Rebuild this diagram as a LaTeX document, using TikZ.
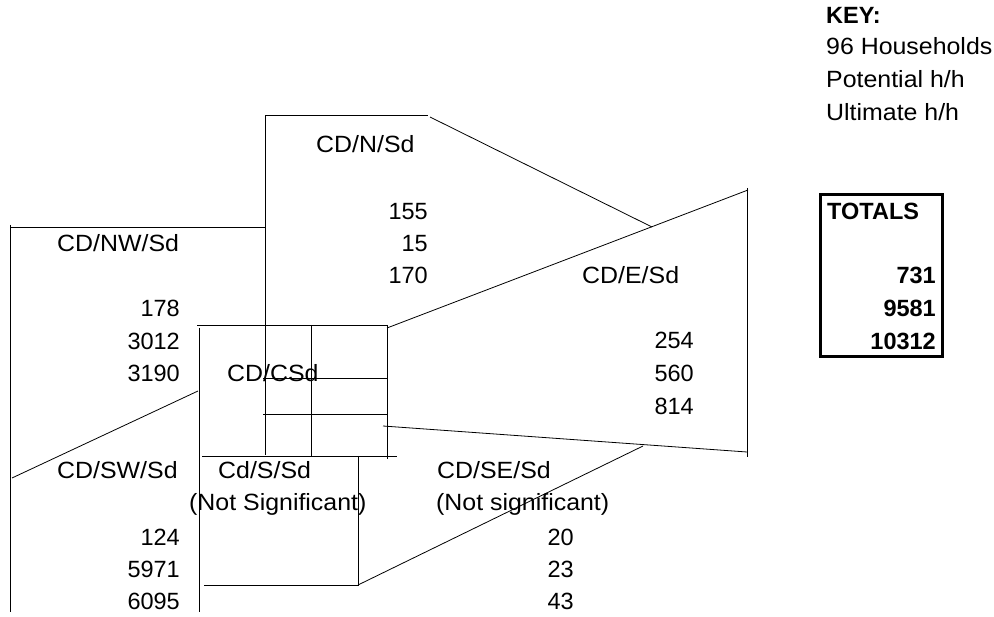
\documentclass[tikz,border=0pt]{standalone}
\usepackage{fontspec}
\setmainfont{Liberation Sans}
\newfontfamily\widesans[FakeStretch=1.06]{Liberation Sans}
\begin{document}
\begin{tikzpicture}[x=1pt,y=-1pt,
  lbl/.style={inner sep=0pt,anchor=base west,font=\widesans\fontsize{23.5}{28}\selectfont},
  num/.style={inner sep=0pt,anchor=base east,font=\fontsize{23.5}{28}\selectfont},
  blbl/.style={inner sep=0pt,anchor=base west,font=\fontsize{23.5}{28}\selectfont\bfseries},
  bnum/.style={num,font=\fontsize{23.5}{28}\selectfont\bfseries},
  ln/.style={line width=0.8pt,black},
  thick box/.style={line width=3pt,black}]
\useasboundingbox (0,0) rectangle (994,617);
% ---- lines ----
% North box
\draw[ln] (265,455) -- (265,115) -- (428,115);
\draw[ln] (430,117) -- (652,227);
% East box
\draw[ln] (387,328) -- (748,190);
\draw[ln] (747,188) -- (747,457);
\draw[ln] (383,426) -- (747,452);
% North-west box
\draw[ln] (10,225) -- (10,612);
\draw[ln] (11,227) -- (265,227);
% South-west diagonal
\draw[ln] (12,478) -- (198,391);
% Central grid
\draw[ln] (197,325) -- (388,325);
\draw[ln] (199,328) -- (199,612);
\draw[ln] (311,325) -- (311,457);
\draw[ln] (387,325) -- (387,459);
\draw[ln] (263,378) -- (388,378);
\draw[ln] (263,414) -- (387,414);
\draw[ln] (202,456) -- (397,456);
% South box
\draw[ln] (358,456) -- (358,585) -- (204,585);
\draw[ln] (358,585) -- (643,446);
% Totals box
\draw[thick box] (820,195) rectangle (942,357);
% ---- texts ----
\node[lbl] (nlab) at (316,153) {CD/N/Sd};
\node[num] (n1) at (428,220) {155};
\node[num] (n2) at (428,252) {15};
\node[num] (n3) at (428,284) {170};
\node[lbl] (nwlab) at (57,252) {CD/NW/Sd};
\node[num] (nw1) at (180,317) {178};
\node[num] (nw2) at (180,350) {3012};
\node[num] (nw3) at (180,382) {3190};
\node[lbl] (clab) at (227,382) {CD/CSd};
\node[lbl] (elab) at (582,284) {CD/E/Sd};
\node[num] (e1) at (694,349) {254};
\node[num] (e2) at (694,382) {560};
\node[num] (e3) at (694,415) {814};
\node[lbl] (swlab) at (57,479) {CD/SW/Sd};
\node[num] (sw1) at (180,545) {124};
\node[num] (sw2) at (180,577) {5971};
\node[num] (sw3) at (180,609) {6095};
\node[lbl] (slab) at (218,479) {Cd/S/Sd};
\node[lbl] (snote) at (189,511) {(Not Significant)};
\node[lbl] (selab) at (437,479) {CD/SE/Sd};
\node[lbl] (senote) at (436,511) {(Not significant)};
\node[num] (se1) at (574,545) {20};
\node[num] (se2) at (574,577) {23};
\node[num] (se3) at (574,609) {43};
\node[blbl] (key) at (826,24) {KEY:};
\node[lbl] (k1) at (826,55) {96 Households};
\node[lbl] (k2) at (826,88) {Potential h/h};
\node[lbl] (k3) at (826,121) {Ultimate h/h};
\node[blbl] (tot) at (827,220) {TOTALS};
\node[bnum] (t1) at (936,284) {731};
\node[bnum] (t2) at (936,317) {9581};
\node[bnum] (t3) at (936,350) {10312};
\end{tikzpicture}
\end{document}
